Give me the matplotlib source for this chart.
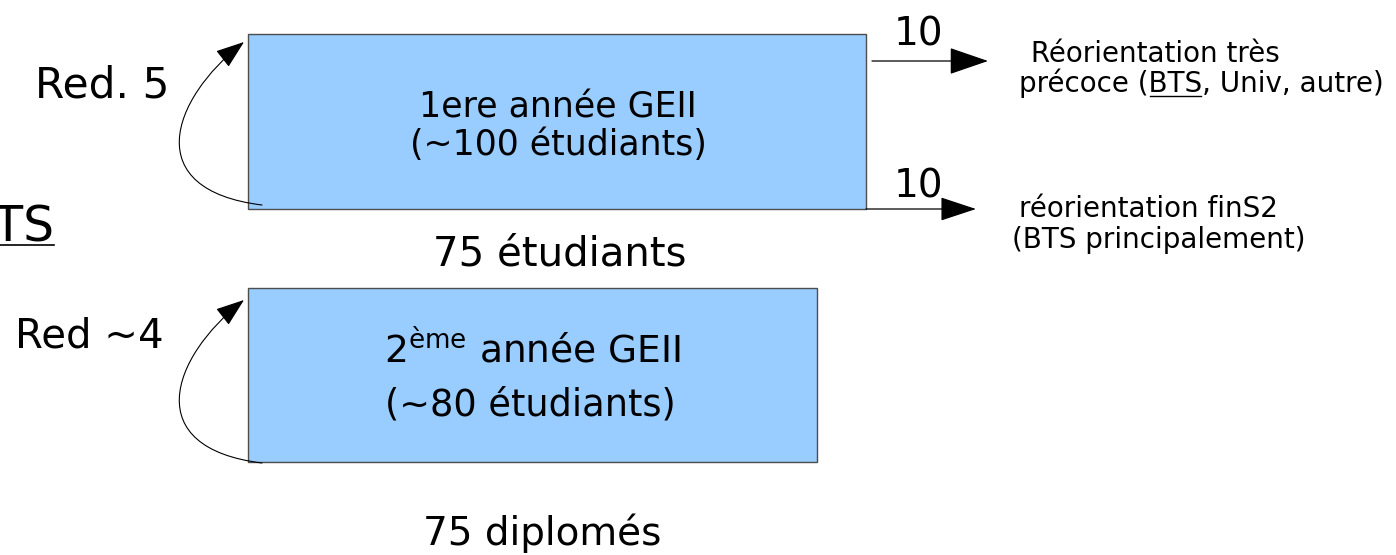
import matplotlib
matplotlib.use("Agg")
import matplotlib.pyplot as plt
from matplotlib.patches import Rectangle, FancyArrowPatch
from matplotlib.path import Path

# Diagram content
box_titles = ["1ere année GEII", "2$^{\\mathregular{ème}}$ année GEII"]
box_counts = ["(~100 étudiants)", "(~80 étudiants)"]
redoublants = ["Red. 5", "Red ~4"]
sortants = ["75 étudiants", "75 diplomés"]
reorient_counts = ["10", "10"]
reorient_line1 = [" Réorientation très", "réorientation finS2"]
reorient_line2 = ["précoce (BTS, Univ, autre)", "(BTS principalement)"]

W, H = 1396, 555
fig = plt.figure(figsize=(W / 100, H / 100), dpi=100)
ax = fig.add_axes([0, 0, 1, 1])
ax.set_xlim(0, W)
ax.set_ylim(H, 0)
ax.axis("off")

fill = "#99ccff"
edge = "#4d4d4d"

# boxes (x, y, w, h) in pixel units
boxes = [(248, 34, 618, 175), (248, 288, 569, 174)]
for (x, y, w, h) in boxes:
    ax.add_patch(Rectangle((x, y), w, h, facecolor=fill, edgecolor=edge, lw=1.0, zorder=1))

# box texts
ax.text(558, 117, box_titles[0], ha="center", va="baseline", fontsize=25)
ax.text(558, 155, box_counts[0], ha="center", va="baseline", fontsize=25)
ax.text(532, 363, box_titles[1], ha="center", va="baseline", fontsize=27)
ax.text(530, 416, box_counts[1], ha="center", va="baseline", fontsize=26.5)

# outflow counts
ax.text(560, 265, sortants[0], ha="center", va="baseline", fontsize=29)
ax.text(542, 545, sortants[1], ha="center", va="baseline", fontsize=28)

# redoublement labels
ax.text(35, 97, redoublants[0], ha="left", va="baseline", fontsize=30.5)
ax.text(15, 347, redoublants[1], ha="left", va="baseline", fontsize=29)

# clipped "BTS" on the left edge
bts = ax.text(54, 241, "BTS", ha="right", va="baseline", fontsize=35)
ax.plot([0, 54], [245, 245], color="black", lw=1.2)

# curved redoublement arrows
for y0 in (0, 258):
    verts = [(262, 205 + y0), (140, 190 + y0), (170, 100 + y0), (244, 42 + y0)]
    codes = [Path.MOVETO, Path.CURVE4, Path.CURVE4, Path.CURVE4]
    arr = FancyArrowPatch(path=Path(verts, codes),
                          arrowstyle="-|>,head_length=1.0,head_width=0.36",
                          mutation_scale=18, lw=0.8, color="black")
    ax.add_patch(arr)

# straight reorientation arrows
ax.annotate("", xy=(988, 61), xytext=(872, 61),
            arrowprops=dict(arrowstyle="-|>,head_length=1.25,head_width=0.43",
                            mutation_scale=20, lw=0.9, color="black",
                            shrinkA=0, shrinkB=0))
ax.annotate("", xy=(976, 209), xytext=(866, 209),
            arrowprops=dict(arrowstyle="-|>,head_length=1.15,head_width=0.38",
                            mutation_scale=20, lw=0.9, color="black",
                            shrinkA=0, shrinkB=0))
ax.text(918, 45, reorient_counts[0], ha="center", va="baseline", fontsize=28)
ax.text(918, 197, reorient_counts[1], ha="center", va="baseline", fontsize=28)

# reorientation descriptions
fs = 20
ax.text(1022, 62, reorient_line1[0], ha="left", va="baseline", fontsize=fs)
t2 = ax.text(1019, 92, reorient_line2[0], ha="left", va="baseline", fontsize=fs)
ax.text(1019, 217, reorient_line1[1], ha="left", va="baseline", fontsize=fs)
ax.text(1012, 248, reorient_line2[1], ha="left", va="baseline", fontsize=fs)

# underline "BTS" inside the second line
fig.canvas.draw()
r = fig.canvas.get_renderer()
inv = ax.transData.inverted()
pre = ax.text(1019, 92, "précoce (", ha="left", va="baseline", fontsize=fs)
word = ax.text(1019, 92, "précoce (BTS", ha="left", va="baseline", fontsize=fs)
x_a = inv.transform(pre.get_window_extent(r).p1)[0]
x_b = inv.transform(word.get_window_extent(r).p1)[0]
pre.remove()
word.remove()
ax.plot([x_a + 1, x_b - 1], [96, 96], color="black", lw=1.0)

fig.savefig("out.png", dpi=100)
